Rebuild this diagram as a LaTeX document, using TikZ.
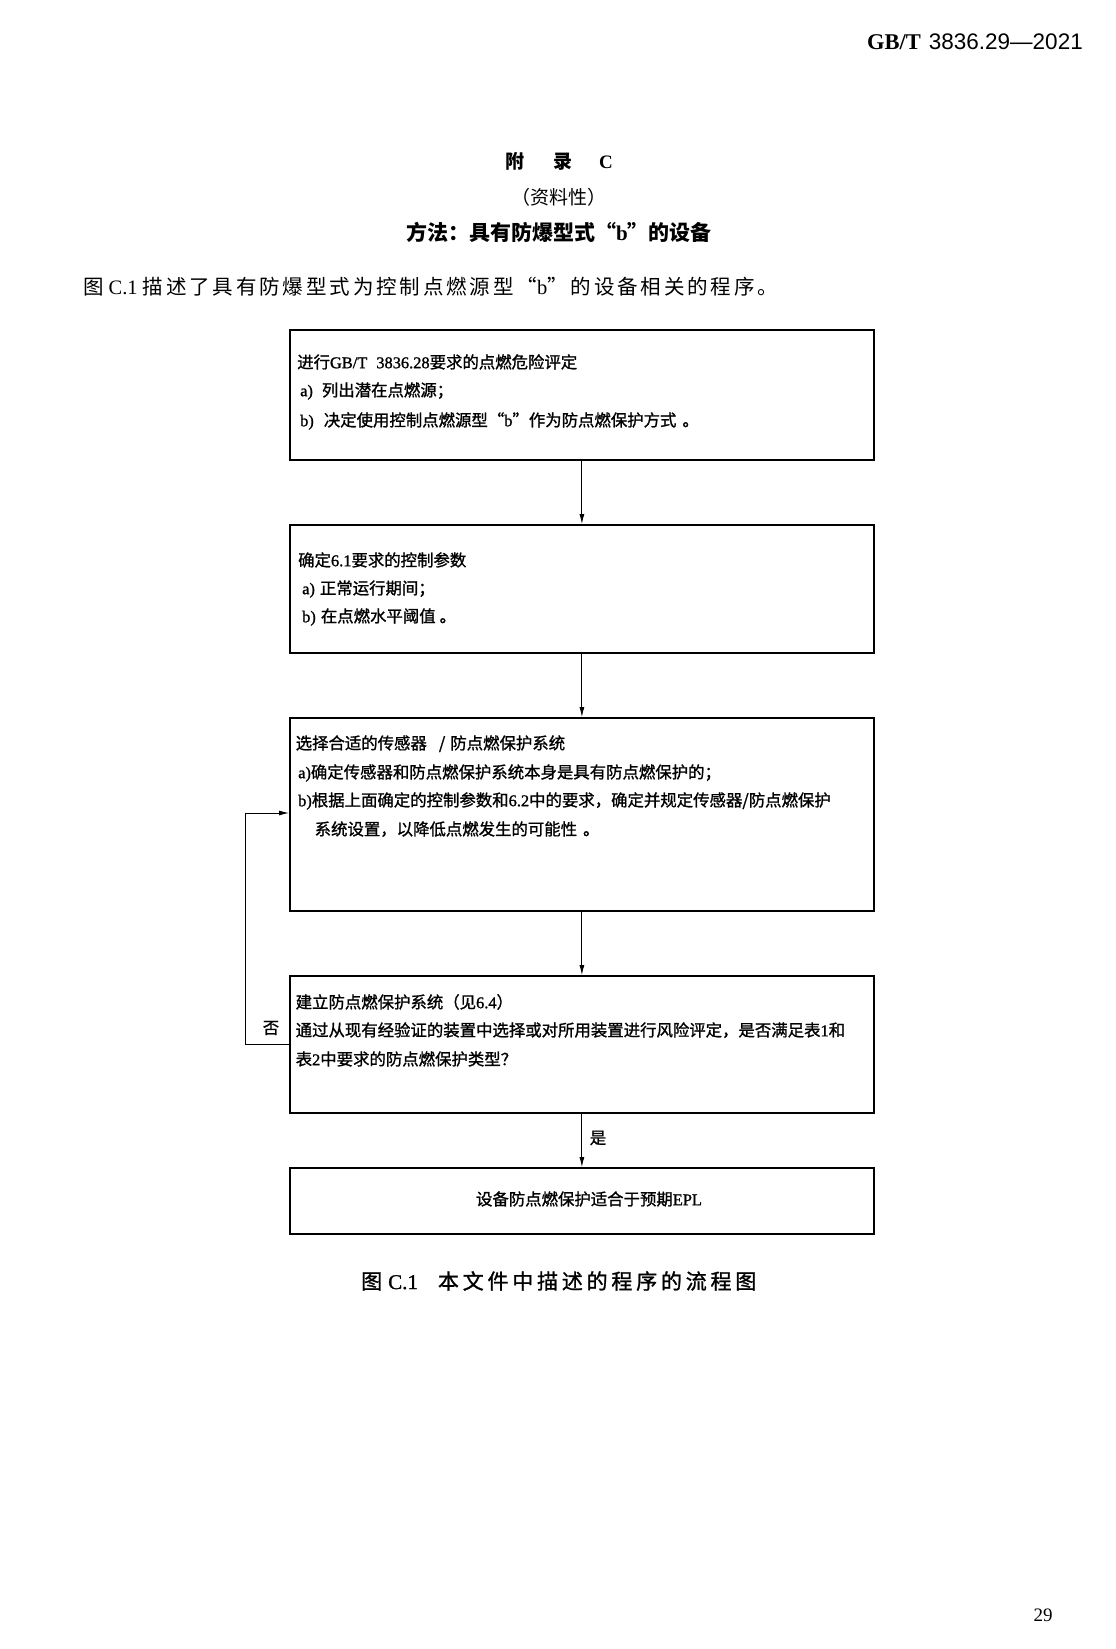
\documentclass[tikz,border=0pt]{standalone}
\usepackage{fontspec}
\setmainfont{Noto Sans CJK SC}
\newfontfamily\latserif{Liberation Serif}
\newfontfamily\latsans{Liberation Sans}
\newfontfamily\cjkbox[FakeBold=1.2]{Noto Sans CJK SC}
\newfontfamily\latbox[FakeBold=1.2]{Liberation Serif}
\newfontfamily\cjkspaced[LetterSpace=14]{Noto Sans CJK SC}
\newfontfamily\cjkcap[LetterSpace=18,FakeBold=1.2]{Noto Sans CJK SC}
\newfontfamily\latcap[FakeBold=1.2]{Liberation Serif}
\newcommand\lat[1]{{\latserif #1}}
\newcommand\latb[1]{{\latbox #1}}
\usetikzlibrary{arrows.meta}
\begin{document}
\begin{tikzpicture}[x=1pt,y=-1pt,
  box/.style={draw, line width=1.8pt, inner sep=0pt, anchor=north west, minimum width=584pt},
  ln/.style={anchor=west, inner sep=0pt, font=\cjkbox\fontsize{16.4}{20}\selectfont, text height=14.4pt, text depth=2pt},
  arr/.style={line width=0.9pt, -{Latex[length=10pt,width=5pt]}},
  lbl/.style={inner sep=0pt, font=\cjkbox\fontsize{16.4}{20}\selectfont}
  ]
\path[use as bounding box, fill=white] (0,0) rectangle (1116,1649);

% header
\node[anchor=east, inner sep=0pt, font=\fontsize{22.5}{26}\selectfont] (hdr) at (1083,42) {{\latserif\bfseries GB/T}\hspace{8pt}{\latsans 3836.29—2021}};

% titles
\node[inner sep=0pt, font=\bfseries\fontsize{19}{22}\selectfont] (t1) at (559,161) {附\hspace{29pt}录\hspace{27pt}{\latserif\bfseries C}};
\node[inner sep=0pt, font=\fontsize{19}{22}\selectfont] (t2) at (559,197) {（资料性）};
\node[inner sep=0pt, font=\bfseries\fontsize{21}{24}\selectfont] (t3) at (559,232) {方法：具有防爆型式“{\latserif\bfseries b}”的设备};

% paragraph
\node[anchor=west, inner sep=0pt, font=\cjkspaced\fontsize{20.5}{24}\selectfont] (para) at (83,287) {图\hspace{5pt}\lat{C.1}\hspace{5pt}描述了具有防爆型式为控制点燃源型“\lat{b}”的设备相关的程序。};

% boxes
\node[box, minimum height=130pt] (b1) at (289,329) {};
\node[box, minimum height=128pt] (b2) at (289,524) {};
\node[box, minimum height=193pt] (b3) at (289,717) {};
\node[box, minimum height=137pt] (b4) at (289,975) {};
\node[box, minimum height=66pt]  (b5) at (289,1167) {};

% box 1 text
\node[ln] (l11) at (297,362) {进行\latb{GB/T\hspace{9pt}3836.28}要求的点燃危险评定};
\node[ln] (l12) at (300,390) {\latb{a)}\hspace{9pt}列出潜在点燃源；};
\node[ln] (l13) at (300,420) {\latb{b)}\hspace{10pt}决定使用控制点燃源型“\latb{b}”作为防点燃保护方式\hspace{6pt}。};

% box 2 text
\node[ln] (l21) at (298,560) {确定\latb{6.1}要求的控制参数};
\node[ln] (l22) at (302,588) {\latb{a)}\hspace{5pt}正常运行期间；};
\node[ln] (l23) at (302,616) {\latb{b)}\hspace{5pt}在点燃水平阈值\hspace{4pt}。};

% box 3 text
\node[ln] (l31) at (295.5,743) {选择合适的传感器\hspace{12pt}/\hspace{5pt}防点燃保护系统};
\node[ln] (l32) at (298,772) {\latb{a)}确定传感器和防点燃保护系统本身是具有防点燃保护的；};
\node[ln] (l33) at (298,800) {\latb{b)}根据上面确定的控制参数和\latb{6.2}中的要求，确定并规定传感器/防点燃保护};
\node[ln] (l34) at (314.5,829) {系统设置，以降低点燃发生的可能性\hspace{6pt}。};

% box 4 text
\node[ln] (l41) at (295.5,1002) {建立防点燃保护系统（见\latb{6.4}）};
\node[ln] (l42) at (295.5,1030) {通过从现有经验证的装置中选择或对所用装置进行风险评定，是否满足表\latb{1}和};
\node[ln] (l43) at (295.5,1059) {表\latb{2}中要求的防点燃保护类型？};

% box 5 text
\node[ln, anchor=center] (l51) at (589,1199) {设备防点燃保护适合于预期\latb{EPL}};

% connectors
\draw[arr] (b1.south) -- (b2.north);
\draw[arr] (b2.south) -- (b3.north);
\draw[arr] (b3.south) -- (b4.north);
\draw[arr] (b4.south) -- (b5.north);
\node[lbl] (yes) at (598,1138) {是};

\coordinate (fa) at (245,1044);
\coordinate (fb) at (245,813);
\draw[arr] (b4.west |- fa) -- (fa) -- (fb) -- (b3.west |- fb);
\node[lbl] (no) at (271,1028) {否};

% caption
\node[anchor=west, inner sep=0pt, font=\cjkcap\fontsize{21}{24}\selectfont] (cap) at (361,1281) {图\hspace{6pt}{\latcap C.1}\hspace{20pt}本文件中描述的程序的流程图};

% page number
\node[inner sep=0pt, font=\latserif\fontsize{19}{22}\selectfont] (pg) at (1043,1615) {29};
\end{tikzpicture}
\end{document}
